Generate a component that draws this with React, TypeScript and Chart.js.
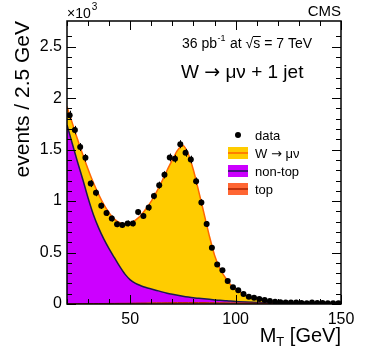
import React, { useEffect, useRef } from 'react';
import { Chart, registerables } from 'chart.js';

Chart.register(...registerables);

const FONT = '"Liberation Sans", Arial, Helvetica, sans-serif';
const ARROW_FONT = '"DejaVu Sans", sans-serif';

// data: bin centres (GeV) and events / 2.5 GeV (x10^3)
const binCenters = [
  21.25, 23.75, 26.25, 28.75, 31.25, 33.75, 36.25, 38.75, 41.25, 43.75,
  46.25, 48.75, 51.25, 53.75, 56.25, 58.75, 61.25, 63.75, 66.25, 68.75,
  71.25, 73.75, 76.25, 78.75, 81.25, 83.75, 86.25, 88.75, 91.25, 93.75,
  96.25, 98.75, 101.25, 103.75, 106.25, 108.75, 111.25, 113.75, 116.25, 118.75,
  121.25, 123.75, 126.25, 128.75, 131.25, 133.75, 136.25, 138.75, 141.25, 143.75,
  146.25, 148.75,
];
const dataValues = [
  1.835, 1.69, 1.525, 1.42, 1.17, 1.08, 0.955, 0.885, 0.83, 0.775,
  0.767, 0.783, 0.783, 0.893, 0.856, 0.937, 1.049, 1.155, 1.255, 1.424,
  1.412, 1.553, 1.469, 1.404, 1.194, 0.987, 0.777, 0.547, 0.384, 0.328,
  0.224, 0.163, 0.133, 0.097, 0.071, 0.061, 0.049, 0.04, 0.03, 0.022,
  0.018, 0.015, 0.015, 0.014, 0.01, 0.008, 0.014, 0.01, 0.01, 0.008,
  0.008, 0.008,
];
const dataErrors = [
  0.043, 0.041, 0.039, 0.038, 0.034, 0.033, 0.031, 0.03, 0.029, 0.028,
  0.028, 0.028, 0.028, 0.03, 0.029, 0.031, 0.032, 0.034, 0.035, 0.038,
  0.038, 0.039, 0.038, 0.037, 0.035, 0.031, 0.028, 0.023, 0.02, 0.018,
  0.015, 0.013, 0.012, 0.01, 0.008, 0.008, 0.007, 0.006, 0.005, 0.005,
  0.004, 0.004, 0.004, 0.004, 0.003, 0.003, 0.004, 0.003, 0.003, 0.003,
  0.003, 0.003,
];

// stacked simulation curves (cumulative top edges)
const curveX = [
  20, 22.5, 25, 27.5, 30, 32.5, 35, 37.5, 40, 42.5, 45, 47.5, 50, 52.5, 55, 57.5,
  60, 62.5, 65, 67.5, 70, 72.5, 75, 77.5, 80, 82.5, 85, 87.5, 90, 92.5, 95, 97.5,
  100, 105, 110, 115, 120, 125, 130, 135, 140, 145, 150,
];
const totalCurve = [
  1.92, 1.76, 1.6, 1.45, 1.31, 1.18, 1.065, 0.965, 0.885, 0.825, 0.79, 0.777, 0.785, 0.815, 0.86, 0.925,
  1.0, 1.09, 1.19, 1.3, 1.4, 1.495, 1.54, 1.46, 1.3, 1.095, 0.88, 0.665, 0.475, 0.345, 0.26, 0.19,
  0.145, 0.083, 0.05, 0.032, 0.021, 0.015, 0.011, 0.009, 0.007, 0.006, 0.005,
];
const nonTopCurve = [
  1.74, 1.56, 1.38, 1.21, 1.03, 0.87, 0.74, 0.63, 0.535, 0.45, 0.365, 0.29, 0.235, 0.2, 0.178, 0.16,
  0.146, 0.132, 0.118, 0.105, 0.094, 0.084, 0.075, 0.067, 0.06, 0.055, 0.05, 0.045, 0.04, 0.036, 0.032, 0.028,
  0.025, 0.019, 0.014, 0.011, 0.009, 0.007, 0.006, 0.005, 0.004, 0.003, 0.003,
];
const topCurve = [
  0.002, 0.002, 0.003, 0.003, 0.004, 0.004, 0.005, 0.005, 0.006, 0.006, 0.007, 0.007, 0.008, 0.009, 0.01, 0.01,
  0.011, 0.012, 0.012, 0.013, 0.013, 0.014, 0.014, 0.014, 0.014, 0.014, 0.014, 0.013, 0.013, 0.012, 0.012, 0.011,
  0.011, 0.009, 0.008, 0.007, 0.006, 0.005, 0.004, 0.004, 0.003, 0.003, 0.002,
];

const legendItems = ['data', 'W \u2192 \u03bc\u03bd', 'non-top', 'top'];

const COL_W = '#FFCC00';
const COL_W_LINE = '#FF6600';
const COL_NT = '#CC00FF';
const COL_NT_LINE = '#1a1a50';
const COL_TOP = '#FF6633';
const COL_TOP_LINE = '#AA2200';

// draws text, rendering the arrow glyph with a font that has a long arrow
function drawMixed(ctx: CanvasRenderingContext2D, text: string, x: number, y: number, size: number) {
  const parts = text.split('\u2192');
  let cx = x;
  parts.forEach((p, i) => {
    ctx.font = `${size}px ${FONT}`;
    ctx.fillText(p, cx, y);
    cx += ctx.measureText(p).width;
    if (i < parts.length - 1) {
      ctx.font = `${size}px ${ARROW_FONT}`;
      ctx.fillText('\u2192', cx, y);
      cx += ctx.measureText('\u2192').width;
    }
  });
}

const cmsPlugin = {
  id: 'cmsDecor',
  afterDatasetsDraw(chart: any) {
    const { ctx, scales } = chart;
    const x = scales.x;
    const y = scales.y;
    ctx.save();
    ctx.strokeStyle = '#000';
    ctx.lineWidth = 1;
    binCenters.forEach((b, i) => {
      const px = Math.round(x.getPixelForValue(b)) + 0.5;
      ctx.beginPath();
      ctx.moveTo(px, y.getPixelForValue(dataValues[i] + dataErrors[i]));
      ctx.lineTo(px, y.getPixelForValue(Math.max(0, dataValues[i] - dataErrors[i])));
      ctx.stroke();
    });
    ctx.restore();
  },
  afterDraw(chart: any) {
    const { ctx, chartArea, scales } = chart;
    const { left, right, top, bottom } = chartArea;
    const x = scales.x;
    const y = scales.y;
    ctx.save();
    ctx.strokeStyle = '#000';
    ctx.lineWidth = 1;
    x.ticks.forEach((t: any) => {
      const v = t.value;
      if (Math.abs(v / 10 - Math.round(v / 10)) > 1e-6) return;
      const major = Math.abs(v / 50 - Math.round(v / 50)) < 1e-6;
      const len = major ? 9 : 5;
      const px = Math.round(x.getPixelForValue(v)) + 0.5;
      ctx.beginPath();
      ctx.moveTo(px, bottom);
      ctx.lineTo(px, bottom - len);
      ctx.moveTo(px, top);
      ctx.lineTo(px, top + len);
      ctx.stroke();
    });
    y.ticks.forEach((t: any) => {
      const v = t.value;
      if (Math.abs(v * 10 - Math.round(v * 10)) > 1e-6) return;
      const major = Math.abs(v * 2 - Math.round(v * 2)) < 1e-6;
      const len = major ? 9 : 5;
      const py = Math.round(y.getPixelForValue(v)) + 0.5;
      ctx.beginPath();
      ctx.moveTo(left, py);
      ctx.lineTo(left + len, py);
      ctx.moveTo(right, py);
      ctx.lineTo(right - len, py);
      ctx.stroke();
    });
    ctx.lineWidth = 1.5;
    ctx.strokeRect(left, top, right - left, bottom - top);

    ctx.fillStyle = '#000';
    ctx.textBaseline = 'alphabetic';
    ctx.textAlign = 'left';
    ctx.font = `14px ${FONT}`;
    ctx.fillText('\u00d710', left, 18);
    const w10 = ctx.measureText('\u00d710').width;
    ctx.font = `10px ${FONT}`;
    ctx.fillText('3', left + w10 + 1, 10);
    ctx.textAlign = 'right';
    ctx.font = `15px ${FONT}`;
    ctx.fillText('CMS', right, 16);

    ctx.textAlign = 'left';
    let cx = 182;
    const by = 48;
    ctx.font = `14px ${FONT}`;
    ctx.fillText('36 pb', cx, by);
    cx += ctx.measureText('36 pb').width;
    ctx.font = `9px ${FONT}`;
    ctx.fillText('-1', cx + 0.5, by - 7);
    cx += ctx.measureText('-1').width + 5;
    ctx.font = `14px ${FONT}`;
    ctx.fillText('at ', cx, by);
    cx += ctx.measureText('at ').width;
    ctx.fillText('\u221a', cx, by);
    cx += ctx.measureText('\u221a').width;
    const ws = ctx.measureText('s').width;
    ctx.fillText('s', cx, by);
    ctx.lineWidth = 1;
    ctx.beginPath();
    ctx.moveTo(cx - 0.5, by - 11.5);
    ctx.lineTo(cx + ws + 0.5, by - 11.5);
    ctx.stroke();
    cx += ws;
    ctx.fillText(' = 7 TeV', cx, by);

    drawMixed(ctx, 'W \u2192 \u03bc\u03bd + 1 jet', 181, 78, 19);

    const rows = [135, 153, 171, 189];
    const bx = 228;
    const bw = 20;
    const bh = 12;
    legendItems.forEach((label, i) => {
      const cy = rows[i];
      if (i === 0) {
        ctx.fillStyle = '#000';
        ctx.beginPath();
        ctx.arc(bx + bw / 2, cy, 3, 0, Math.PI * 2);
        ctx.fill();
      } else {
        const fill = i === 1 ? COL_W : i === 2 ? COL_NT : COL_TOP;
        const line = i === 1 ? COL_W_LINE : i === 2 ? COL_NT_LINE : COL_TOP_LINE;
        ctx.fillStyle = fill;
        ctx.fillRect(bx, cy - bh / 2, bw, bh);
        ctx.strokeStyle = line;
        ctx.lineWidth = 1.5;
        ctx.beginPath();
        ctx.moveTo(bx, cy);
        ctx.lineTo(bx + bw, cy);
        ctx.stroke();
      }
      ctx.fillStyle = '#000';
      ctx.textAlign = 'left';
      ctx.textBaseline = 'alphabetic';
      drawMixed(ctx, label, 255, cy + 4.5, 13);
    });

    ctx.textBaseline = 'alphabetic';
    ctx.font = `20px ${FONT}`;
    const wM = ctx.measureText('M').width;
    const rest = ' [GeV]';
    const wRest = ctx.measureText(rest).width;
    ctx.font = `13px ${FONT}`;
    const wT = ctx.measureText('T').width;
    const startX = right - (wM + wT + wRest);
    ctx.font = `20px ${FONT}`;
    ctx.fillText('M', startX, 342);
    ctx.font = `13px ${FONT}`;
    ctx.fillText('T', startX + wM, 346);
    ctx.font = `20px ${FONT}`;
    ctx.fillText(rest, startX + wM + wT, 342);

    ctx.save();
    ctx.translate(29, top);
    ctx.rotate(-Math.PI / 2);
    ctx.textAlign = 'right';
    ctx.font = `21px ${FONT}`;
    ctx.fillText('events / 2.5 GeV', 0, 0);
    ctx.restore();

    ctx.restore();
  },
};

export default function App() {
  const canvasRef = useRef<HTMLCanvasElement | null>(null);

  useEffect(() => {
    const canvas = canvasRef.current;
    if (!canvas) return;
    Chart.defaults.font.family = FONT;
    const mk = (arr: number[]) => curveX.map((xv, i) => ({ x: xv, y: arr[i] }));
    const chart = new Chart(canvas, {
      type: 'line',
      data: {
        datasets: [
          {
            label: 'top',
            data: mk(topCurve),
            borderColor: COL_TOP_LINE,
            backgroundColor: COL_TOP,
            borderWidth: 1,
            fill: 'origin',
            pointRadius: 0,
            cubicInterpolationMode: 'monotone',
          },
          {
            label: 'non-top',
            data: mk(nonTopCurve),
            borderColor: COL_NT_LINE,
            backgroundColor: COL_NT,
            borderWidth: 1.5,
            fill: '-1',
            pointRadius: 0,
            cubicInterpolationMode: 'monotone',
          },
          {
            label: 'W \u2192 \u03bc\u03bd',
            data: mk(totalCurve),
            borderColor: COL_W_LINE,
            backgroundColor: COL_W,
            borderWidth: 1.5,
            fill: '-1',
            pointRadius: 0,
            cubicInterpolationMode: 'monotone',
          },
          {
            label: 'data',
            data: binCenters.map((b, i) => ({ x: b, y: dataValues[i] })),
            showLine: false,
            pointRadius: 3,
            pointBackgroundColor: '#000',
            pointBorderColor: '#000',
            pointBorderWidth: 0,
            order: -1,
          },
        ],
      } as any,
      options: {
        responsive: false,
        animation: false,
        events: [],
        layout: { padding: { top: 21, right: 33, left: 0, bottom: 0 } },
        plugins: {
          legend: { display: false },
          tooltip: { enabled: false },
          filler: { drawTime: 'beforeDatasetsDraw' },
        } as any,
        scales: {
          x: {
            type: 'linear',
            min: 20,
            max: 150,
            grid: { display: false, drawTicks: false },
            border: { display: false },
            afterFit: (s: any) => { s.height = 57; },
            ticks: {
              stepSize: 10,
              autoSkip: false,
              maxRotation: 0,
              padding: 6,
              color: '#000',
              font: { size: 16, family: FONT },
              callback: (v: any) => (Math.abs(v / 50 - Math.round(v / 50)) < 1e-6 ? String(v) : ''),
            },
          },
          y: {
            type: 'linear',
            min: 0,
            max: 2.75,
            grid: { display: false, drawTicks: false },
            border: { display: false },
            afterFit: (s: any) => { s.width = 67; },
            ticks: {
              stepSize: 0.1,
              autoSkip: false,
              padding: 5,
              color: '#000',
              font: { size: 16, family: FONT },
              callback: (v: any) => {
                const r = Math.round(v * 2) / 2;
                return Math.abs(v - r) < 1e-6 ? String(r) : '';
              },
            },
          },
        },
      } as any,
      plugins: [cmsPlugin],
    });
    return () => chart.destroy();
  }, []);

  return (
    <div style={{ position: 'absolute', left: 0, top: 0, width: 374, height: 361, background: '#fff' }}>
      <canvas ref={canvasRef} width={374} height={361} style={{ display: 'block' }} />
    </div>
  );
}
